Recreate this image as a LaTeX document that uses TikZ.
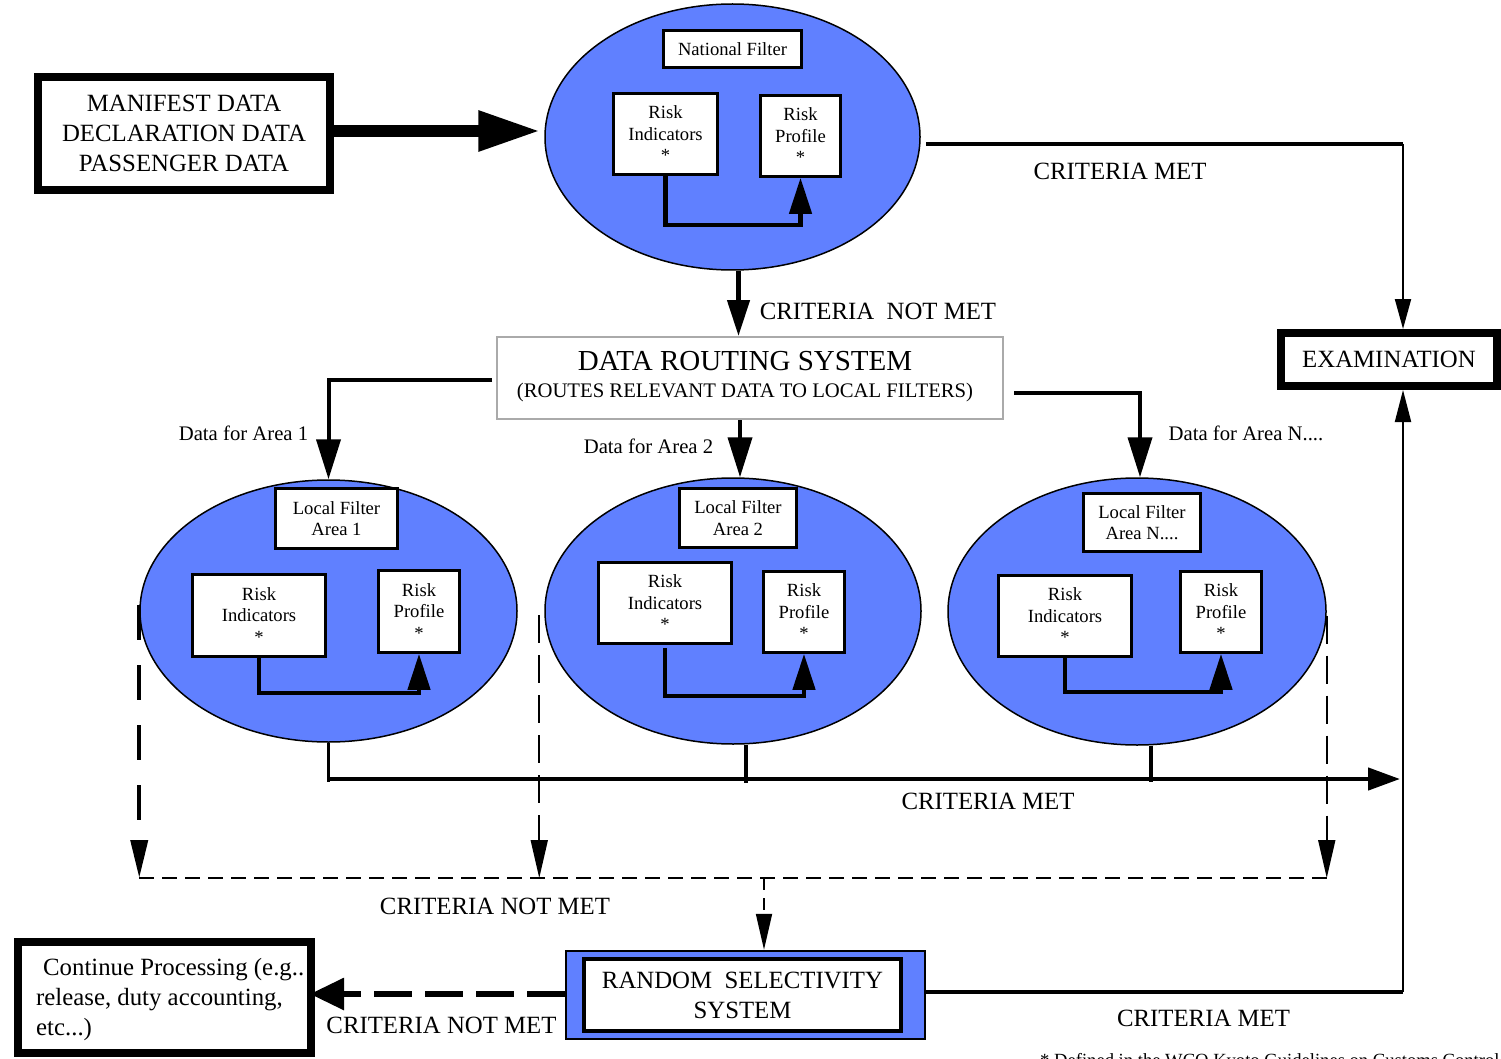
\documentclass[tikz,border=0pt]{standalone}
\usepackage{fontspec}
\setmainfont{Liberation Serif}
\usetikzlibrary{arrows.meta,shapes.geometric,calc}
\definecolor{fblue}{RGB}{96,128,255}
\definecolor{dgray}{RGB}{170,170,170}
\begin{document}
\begin{tikzpicture}[x=1pt,y=-1pt,
  big/.style={font=\fontsize{24.8pt}{30pt}\selectfont},
  sm/.style={font=\fontsize{18.6pt}{21.5pt}\selectfont},
  md/.style={font=\fontsize{20.7pt}{24pt}\selectfont},
  filt/.style={ellipse, draw, fill=fblue, line width=1.5pt, inner sep=0pt},
  wbox/.style={rectangle, draw, fill=white, line width=2.6pt, inner sep=0pt, align=center, sm},
  heavybox/.style={rectangle, draw, fill=white, line width=8pt, inner sep=0pt, align=center, big},
  lbl/.style={inner sep=0pt, big},
  mlbl/.style={inner sep=0pt, md},
  innerarrow/.style={line width=4.5pt, -{Triangle[length=36pt,width=22pt]}},
  feedarrow/.style={line width=4pt, -{Triangle[length=40pt,width=24pt]}},
  dasharrow/.style={-{Triangle[length=38pt,width=17pt]}}
]
\fill[white] (0,0) rectangle (1501,1059);
\useasboundingbox (0,0) rectangle (1501,1059);

% ---------- National filter ----------
\node[filt, minimum width=375pt, minimum height=266pt] (nat) at (732.5,137) {};
\node[wbox, minimum width=138pt, minimum height=37pt] (natname) at (732.5,49) {National Filter};
\node[wbox, minimum width=104pt, minimum height=81pt] (nri) at (665.5,134) {Risk\\Indicators\\*};
\node[wbox, minimum width=80pt, minimum height=81pt] (nrp) at (800.5,136) {Risk\\Profile\\*};
\draw[innerarrow] (nri.south) -- ++(0,49) -| (nrp.south);

% ---------- Manifest ----------
\node[heavybox, minimum width=292pt, minimum height=113pt] (man) at (184,133.5) {MANIFEST DATA\\DECLARATION DATA\\PASSENGER DATA};
\draw[line width=12pt, -{Triangle[length=62pt,width=38pt]}] ($(man.east)+(0,-2.5)$) -- ($(man.east -| nat.west)+(-4,-2.5)$);

% ---------- Examination ----------
\node[heavybox, minimum width=216pt, minimum height=53pt] (exam) at (1389,359.5) {EXAMINATION};
\coordinate (natR) at (926,144);
\coordinate (cTop) at (1403,144);
\draw[line width=3.5pt] (natR) -- (cTop);
\draw[line width=2pt, -{Triangle[length=30pt,width=16pt]}] (cTop) -- (cTop |- exam.north);
\node[lbl] (cm1) at (1120,171) {CRITERIA MET};

% ---------- Data routing system ----------
\node[rectangle, draw=dgray, line width=2pt, minimum width=506pt, minimum height=82pt, inner sep=0pt] (drs) at (750,378) {};
\node[anchor=base, inner sep=0pt, font=\fontsize{29pt}{29pt}\selectfont] (drs1) at (745,370) {DATA ROUTING SYSTEM};
\node[anchor=base, inner sep=0pt, md] (drs2) at (745,397) {(ROUTES RELEVANT DATA TO LOCAL FILTERS)};
\draw[line width=4.5pt, -{Triangle[length=36pt,width=22pt]}] ($(nat.south)+(6,0)$) -- ($(nat.south |- drs.north)+(6,0)$);
\node[lbl] (cnm1) at (878,311) {CRITERIA\ \ NOT MET};

% ---------- Local filters ----------
\node[filt, minimum width=377pt, minimum height=262pt] (e1) at (328.5,611) {};
\node[filt, minimum width=376pt, minimum height=266pt] (e2) at (733,611) {};
\node[filt, minimum width=378pt, minimum height=267pt] (eN) at (1137,611.5) {};

\node[wbox, minimum width=122pt, minimum height=60pt] (lf1) at (336.5,518.5) {Local Filter\\Area 1};
\node[wbox, minimum width=133pt, minimum height=82pt] (ri1) at (259,615.5) {Risk\\Indicators\\*};
\node[wbox, minimum width=81pt, minimum height=82pt] (rp1) at (419,611.5) {Risk\\Profile\\*};
\draw[innerarrow] (ri1.south) -- ++(0,35) -| (rp1.south);

\node[wbox, minimum width=117pt, minimum height=59pt] (lf2) at (738,518) {Local Filter\\Area 2};
\node[wbox, minimum width=133pt, minimum height=81pt] (ri2) at (665,603) {Risk\\Indicators\\*};
\node[wbox, minimum width=81pt, minimum height=81pt] (rp2) at (804,612) {Risk\\Profile\\*};
\draw[innerarrow] ($(ri2.south)+(0,3)$) -- ++(0,48) -| (rp2.south);

\node[wbox, minimum width=117pt, minimum height=58pt] (lfN) at (1142,522.5) {Local Filter\\Area N....};
\node[wbox, minimum width=133pt, minimum height=81pt] (riN) at (1065,616) {Risk\\Indicators\\*};
\node[wbox, minimum width=81pt, minimum height=81pt] (rpN) at (1221,612) {Risk\\Profile\\*};
\draw[innerarrow] (riN.south) -- ++(0,34) -| (rpN.south);

% routing arrows
\draw[feedarrow] ($(drs.west)+(-4,2)$) -| (e1.north);
\coordinate (m2) at ($(e2.north)+(7,0)$);
\draw[feedarrow] (m2 |- drs.south) -- (m2);
\coordinate (r0) at (1014,393);
\draw[feedarrow] (r0) -| ($(eN.north)+(3,0)$);
\node[mlbl] (da1) at (243.5,433) {Data for Area 1};
\node[mlbl] (da2) at (648.5,446) {Data for Area 2};
\node[mlbl] (daN) at (1246,433) {Data for Area N....};

% ---------- criteria met (local) ----------
\coordinate (bend) at (1400,779);
\coordinate (s2) at ($(e2.south)+(13,0)$);
\coordinate (sN) at ($(eN.south)+(14,0)$);
\draw[line width=3.5pt] (e1.south) -- ($(e1.south |- bend)+(0,3)$);
\draw[line width=3.5pt] (s2) -- ($(s2 |- bend)+(0,4)$);
\draw[line width=3.5pt] (sN) -- ($(sN |- bend)+(0,3)$);
\draw[line width=4.5pt, -{Triangle[length=32pt,width=22pt]}] (e1.south |- bend) -- (bend);
\node[lbl] (cm2) at (988,801) {CRITERIA MET};

% ---------- criteria not met (local) ----------
\coordinate (dl) at (140,878);
\coordinate (md0) at ($(e2.west)+(-5,4)$);
\coordinate (dm) at (764,878);
\draw[line width=4pt, dash pattern=on 35pt off 25pt, dasharrow] ($(e1.west)+(0,-6)$) -- (e1.west |- dl);
\draw[line width=1.8pt, dash pattern=on 28pt off 12pt, dasharrow] (md0) -- (md0 |- dl);
\draw[line width=1.8pt, dash pattern=on 28pt off 12pt, dasharrow] ($(eN.east)+(0,4)$) -- (eN.east |- dl);
\draw[line width=1.8pt, dash pattern=on 15pt off 8pt] (e1.west |- dl) -- (eN.east |- dl);
\node[lbl] (cnm2) at (495,906) {CRITERIA NOT MET};

% ---------- random selectivity ----------
\node[rectangle, draw, fill=fblue, line width=2.5pt, minimum width=359pt, minimum height=88pt, inner sep=0pt] (rs) at (745.5,995) {};
\node[rectangle, draw, fill=white, line width=3.5pt, minimum width=317pt, minimum height=72pt, inner sep=0pt, align=center, big] (rsin) at (742.5,995) {RANDOM\ \ SELECTIVITY\\SYSTEM};
\draw[line width=1.8pt, dash pattern=on 12pt off 8pt, -{Triangle[length=36pt,width=16pt]}] (dm) -- (dm |- rs.north);

% ---------- continue processing ----------
\node[rectangle, draw, fill=white, line width=8pt, minimum width=293pt, minimum height=111pt, inner sep=0pt] (cont) at (164.5,997.5) {};
\node[anchor=west, inner sep=0pt, align=left, big] (contt) at (36,1000) {\hspace{7pt}Continue Processing (e.g..\\release, duty accounting,\\etc...)};
\draw[line width=6pt, dash pattern=on 38pt off 13pt, -{Triangle[length=34pt,width=31pt]}] ($(rs.west)+(0,-1)$) -- ($(cont.east |- rs.west)+(-5,-1)$);
\node[lbl] (cnm3) at (441.5,1025) {CRITERIA NOT MET};

% ---------- random -> examination ----------
\coordinate (cBot) at (1403,992);
\draw[line width=4.5pt] ($(rs.east)+(0,-3)$) -- (cBot);
\draw[line width=2pt, -{Triangle[length=32pt,width=16pt]}] (cBot) -- (cBot |- exam.south);
\node[lbl] (cm3) at (1203.5,1018) {CRITERIA MET};

% footnote
\node[anchor=base west, inner sep=0pt, sm] (fn) at (1040,1066) {* Defined in the WCO Kyoto Guidelines on Customs Control};
\end{tikzpicture}
\end{document}
